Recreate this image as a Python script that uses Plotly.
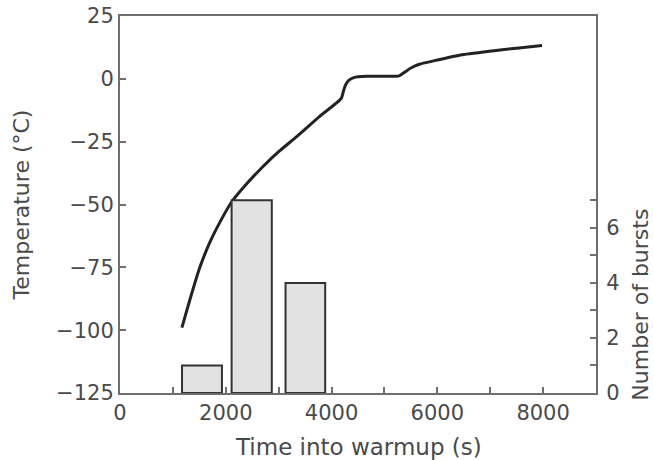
import plotly.graph_objects as go

# Temperature curve
time_s = [1170, 1320, 1510, 1700, 1890, 2110, 2300, 2700, 3000, 3340, 3770, 4100, 4190, 4230, 4270, 4330, 4420, 4660, 5000, 5280, 5380, 5500, 5660, 5980, 6470, 7110, 7500, 7980]
temp_c = [-99, -88, -75, -65, -57, -49, -44, -35, -29, -23, -15, -9.5, -7.5, -4.5, -2.2, -0.5, 0.5, 1.0, 1.0, 1.2, 2.6, 4.3, 5.8, 7.4, 9.6, 11.3, 12.2, 13.3]

# Burst histogram
burst_x = [1550, 2490, 3505]
burst_w = [755, 760, 750]
burst_n = [1, 7, 4]

x_ticks = [0, 1000, 2000, 3000, 4000, 5000, 6000, 7000, 8000, 9000]
x_labels = ["0", "", "2000", "", "4000", "", "6000", "", "8000", ""]
y_ticks = [-125, -100, -75, -50, -25, 0, 25]
y_labels = ["\u2212125", "\u2212100", "\u221275", "\u221250", "\u221225", "0", "25"]
y2_ticks = [0, 1, 2, 3, 4, 5, 6, 7]
y2_labels = ["0", "", "2", "", "4", "", "6", ""]

AX = "#6e6e6e"
TXT = "#4a4a4a"
FONT = "DejaVu Sans"
TICK_SIZE = 21
TITLE_SIZE = 22

fig = go.Figure()
fig.add_trace(go.Bar(x=burst_x, y=burst_n, width=burst_w, yaxis="y2",
                     marker=dict(color="#e2e2e2", line=dict(color="#333333", width=2)),
                     showlegend=False))
fig.add_trace(go.Scatter(x=time_s, y=temp_c, mode="lines",
                         line=dict(color="#222222", width=3, shape="spline", smoothing=0.5),
                         showlegend=False))

common = dict(ticks="inside", ticklen=6, tickcolor=AX, tickwidth=2, showline=True, linecolor=AX,
              linewidth=2, showgrid=False, zeroline=False, automargin=False,
              tickfont=dict(size=TICK_SIZE, color=TXT, family=FONT))

fig.update_layout(
    width=653, height=460,
    margin=dict(l=120, r=57, t=16, b=67),
    paper_bgcolor="white", plot_bgcolor="white",
    font=dict(family=FONT, size=TICK_SIZE, color=TXT),
    xaxis=dict(range=[0, 9000], tickvals=x_ticks, ticktext=x_labels, mirror=True, **common),
    yaxis=dict(range=[-125, 25], tickvals=y_ticks, ticktext=y_labels, mirror=True, **common),
    yaxis2=dict(range=[0, 13.7], overlaying="y", side="right", tickvals=y2_ticks, ticktext=y2_labels,
                ticklabelstandoff=4, **common),
    annotations=[
        dict(text="Temperature (\u00b0C)", x=-0.206, y=0.5, xref="paper", yref="paper", textangle=-90,
             showarrow=False, font=dict(size=TITLE_SIZE, color=TXT), xanchor="center", yanchor="middle"),
        dict(text="Number of bursts", x=1.0935, y=0.233, xref="paper", yref="paper", textangle=-90,
             showarrow=False, font=dict(size=TITLE_SIZE, color=TXT), xanchor="center", yanchor="middle"),
        dict(text="Time into warmup (s)", x=0.5, y=-0.143, xref="paper", yref="paper",
             showarrow=False, font=dict(size=23, color=TXT), xanchor="center", yanchor="middle"),
    ],
)

fig.write_html("out.html", config={"displayModeBar": False},
               post_script="document.body.style.margin='0';document.body.style.overflow='hidden';")
